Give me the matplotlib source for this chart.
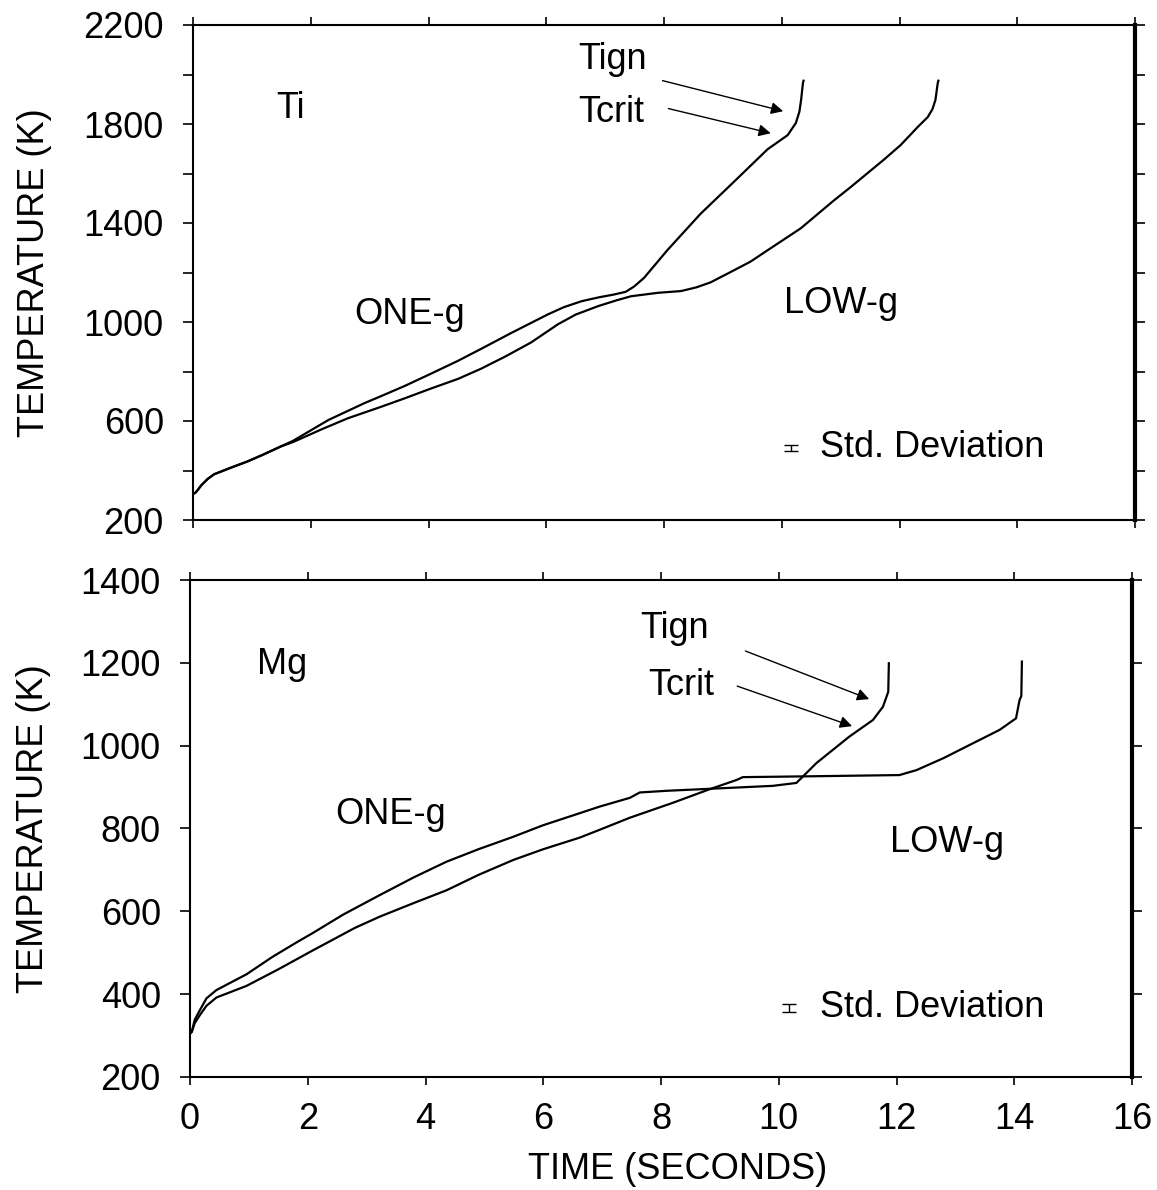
import matplotlib
matplotlib.use("Agg")
import matplotlib.pyplot as plt
from matplotlib.ticker import MultipleLocator, FixedLocator

plt.rcParams['font.family'] = ['Liberation Sans', 'DejaVu Sans']

# ---- Ti panel data (time s, temperature K) ----
ti_one_t = [0.0, 0.04, 0.08, 0.14, 0.25, 0.36, 0.5, 0.65, 0.93, 1.2, 1.49, 1.7,
            2.3, 2.91, 3.19, 3.6, 4.04, 4.5, 4.89, 5.4, 6.03, 6.3, 6.6, 6.9, 7.15,
            7.35, 7.49, 7.66, 8.06, 8.62, 9.19, 9.76, 10.1, 10.24, 10.3, 10.33, 10.36, 10.37]
ti_one_T = [305, 310, 321, 340, 366, 385, 398, 412, 437, 465, 497, 520,
            604, 672, 700, 742, 791, 843, 891, 955, 1031, 1060, 1084, 1100, 1111,
            1122, 1143, 1178, 1291, 1437, 1567, 1698, 1755, 1804, 1850, 1900, 1966, 1975]
ti_low_t = [0.0, 0.04, 0.08, 0.14, 0.25, 0.36, 0.5, 0.65, 0.93, 1.2, 1.49, 1.7,
            2.2, 2.63, 3.19, 3.6, 4.04, 4.5, 4.89, 5.3, 5.74, 6.2, 6.5, 6.88, 7.2,
            7.44, 7.9, 8.29, 8.55, 8.79, 9.1, 9.47, 9.76, 10.32, 10.88, 11.17, 11.73,
            12.02, 12.31, 12.48, 12.56, 12.61, 12.65, 12.66]
ti_low_T = [305, 310, 321, 340, 366, 385, 398, 412, 437, 465, 497, 515,
            568, 611, 657, 692, 731, 770, 811, 860, 917, 991, 1030, 1064, 1088,
            1104, 1118, 1125, 1140, 1160, 1198, 1244, 1290, 1378, 1490, 1545, 1655,
            1715, 1788, 1828, 1860, 1897, 1966, 1975]

# ---- Mg panel data ----
mg_one_t = [0.0, 0.03, 0.08, 0.17, 0.28, 0.45, 0.96, 1.4, 1.81, 2.09, 2.6, 3.22,
            3.8, 4.36, 4.9, 5.49, 6.0, 6.62, 6.96, 7.47, 7.64, 8.09, 9.0, 9.9,
            10.3, 10.64, 11.2, 11.6, 11.77, 11.83, 11.86, 11.87]
mg_one_T = [305, 309, 338, 362, 390, 410, 448, 490, 525, 548, 592, 639,
            682, 720, 750, 780, 808, 837, 853, 874, 887, 891, 897, 903,
            910, 958, 1022, 1062, 1094, 1118, 1130, 1199]
mg_low_t = [0.0, 0.03, 0.08, 0.17, 0.28, 0.45, 0.96, 1.5, 2.09, 2.38, 2.8, 3.22,
            3.8, 4.36, 4.9, 5.49, 6.0, 6.62, 6.96, 7.47, 8.2, 8.83, 9.28, 9.39,
            10.5, 12.05, 12.34, 12.8, 13.19, 13.75, 14.03, 14.09, 14.12, 14.13]
mg_low_T = [305, 309, 330, 350, 372, 392, 420, 460, 506, 528, 560, 587,
            620, 651, 688, 724, 750, 778, 797, 826, 862, 895, 917, 924,
            926, 929, 941, 970, 998, 1038, 1066, 1110, 1120, 1203]

x_ticks = [0, 2, 4, 6, 8, 10, 12, 14, 16]
ti_yticks = [200, 600, 1000, 1400, 1800, 2200]
mg_yticks = [200, 400, 600, 800, 1000, 1200, 1400]

FS = 26
fig = plt.figure(figsize=(11.57, 11.90), dpi=100)
ax1 = fig.add_axes([193 / 1157, 1 - 520 / 1190, 942 / 1157, 495 / 1190])
ax2 = fig.add_axes([190 / 1157, 1 - 1077 / 1190, 942 / 1157, 497 / 1190])

for ax in (ax1, ax2):
    ax.set_xlim(0, 16)
    ax.set_xticks(x_ticks)
    ax.tick_params(axis='both', which='both', direction='out', top=True, right=True,
                   labelsize=FS, width=1.2, length=7)
    ax.tick_params(axis='y', which='both', pad=14)
    ax.tick_params(axis='x', which='both', pad=12, length=6)
    for s in ax.spines.values():
        s.set_linewidth(1.5)
    ax.spines['right'].set_linewidth(3)

arr = dict(arrowstyle='-|>', color='black', lw=1.0, mutation_scale=18)

# Top panel (Ti)
ax1.plot(ti_one_t, ti_one_T, color='black', lw=1.6)
ax1.plot(ti_low_t, ti_low_T, color='black', lw=1.6)
ax1.set_ylim(200, 2200)
ax1.yaxis.set_major_locator(FixedLocator(ti_yticks))
ax1.yaxis.set_minor_locator(MultipleLocator(200))
ax1.tick_params(axis='x', labelbottom=False)
ax1.set_ylabel('TEMPERATURE (K)', fontsize=FS)
ax1.yaxis.set_label_coords(-0.150, 0.5)
ax1.text(1.66, 1864, 'Ti', fontsize=FS, ha='center', va='center')
ax1.text(3.67, 1030, 'ONE-g', fontsize=FS, ha='center', va='center')
ax1.text(11.0, 1075, 'LOW-g', fontsize=FS, ha='center', va='center')
ax1.text(6.54, 2059, 'Tign', fontsize=FS, ha='left', va='center')
ax1.text(6.54, 1845, 'Tcrit', fontsize=FS, ha='left', va='center')
ax1.annotate('', xy=(10.07, 1849), xytext=(7.93, 1978), arrowprops=arr)
ax1.annotate('', xy=(9.86, 1760), xytext=(8.03, 1865), arrowprops=arr)
ax1.errorbar([10.15], [491], yerr=[14], color='black', lw=1, capsize=5, capthick=1)
ax1.text(10.65, 491, 'Std. Deviation', fontsize=FS, ha='left', va='center')

# Bottom panel (Mg)
ax2.plot(mg_one_t, mg_one_T, color='black', lw=1.6)
ax2.plot(mg_low_t, mg_low_T, color='black', lw=1.6)
ax2.set_ylim(200, 1400)
ax2.yaxis.set_major_locator(FixedLocator(mg_yticks))
ax2.set_ylabel('TEMPERATURE (K)', fontsize=FS)
ax2.yaxis.set_label_coords(-0.148, 0.5)
ax2.set_xlabel('TIME (SECONDS)', fontsize=FS)
ax2.xaxis.set_label_coords(0.518, -0.15)
ax2.text(1.56, 1195, 'Mg', fontsize=FS, ha='center', va='center')
ax2.text(3.4, 833, 'ONE-g', fontsize=FS, ha='center', va='center')
ax2.text(12.85, 765, 'LOW-g', fontsize=FS, ha='center', va='center')
ax2.text(7.64, 1284, 'Tign', fontsize=FS, ha='left', va='center')
ax2.text(7.78, 1146, 'Tcrit', fontsize=FS, ha='left', va='center')
ax2.annotate('', xy=(11.58, 1110), xytext=(9.39, 1231), arrowprops=arr)
ax2.annotate('', xy=(11.29, 1045), xytext=(9.25, 1146), arrowprops=arr)
ax2.errorbar([10.17], [367], yerr=[9], color='black', lw=1, capsize=5, capthick=1)
ax2.text(10.7, 367, 'Std. Deviation', fontsize=FS, ha='left', va='center')

fig.savefig('out.png', dpi=100)
